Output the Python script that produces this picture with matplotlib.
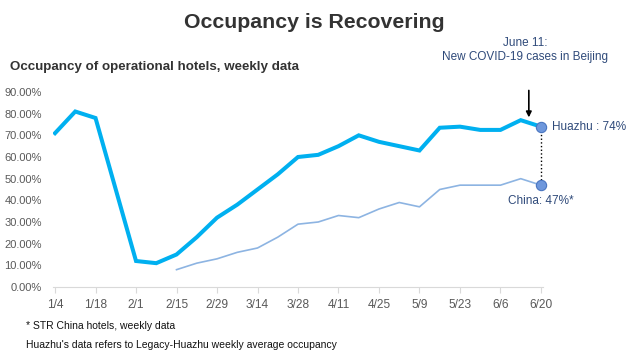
import matplotlib.pyplot as plt
import numpy as np

plt.rcParams['font.family'] = ['Liberation Sans', 'DejaVu Sans']

# weekly data, 1/4 .. 6/20
weeks = ['1/4', '1/11', '1/18', '1/25', '2/1', '2/8', '2/15', '2/22', '2/29', '3/7',
         '3/14', '3/21', '3/28', '4/4', '4/11', '4/18', '4/25', '5/2', '5/9', '5/16',
         '5/23', '5/30', '6/6', '6/13', '6/20']
huazhu = [71, 81, 78, 45, 12, 11, 15, 23, 32, 38, 45, 52, 60, 61, 65, 70, 67, 65,
          63, 73.5, 74, 72.5, 72.5, 77, 74]
china = [None, None, None, None, None, None, 8, 11, 13, 16, 18, 23, 29, 30, 33, 32,
         36, 39, 37, 45, 47, 47, 47, 50, 47]

yticks = [0, 10, 20, 30, 40, 50, 60, 70, 80, 90]

x = np.arange(len(weeks))
hz = np.array(huazhu) / 100
ch = np.array([np.nan if v is None else v for v in china], dtype=float) / 100

fig = plt.figure(figsize=(6.28, 3.51), dpi=100)
ax = fig.add_axes([53 / 628, 1 - 287 / 351, 490 / 628, 195 / 351])

ax.plot(x, hz, color='#00b0f0', lw=2.9, solid_joinstyle='miter', zorder=3)
ax.plot(x, ch, color='#8db4e2', lw=1.2, zorder=3)

# end markers + dotted connector
last = len(x) - 1
ax.plot([last, last], [hz[-1], ch[-1]], ls=':', color='black', lw=1, zorder=2)
ax.scatter([last, last], [hz[-1], ch[-1]], s=55, color='#6e97dc',
           edgecolor='#4a75c0', lw=0.8, zorder=4, clip_on=False)

dark = '#2f4a7a'
ax.text(last + 0.55, hz[-1], 'Huazhu : 74%', color=dark, fontsize=8.5,
        va='center', ha='left')
ax.text(last, ch[-1] - 0.045, 'China: 47%*', color=dark, fontsize=8.5,
        va='top', ha='center')

ax.annotate('', xy=(23.4, 0.77), xytext=(23.4, 0.92),
            arrowprops=dict(arrowstyle='-|>', color='black', lw=1.2,
                            mutation_scale=8),
            annotation_clip=False)
ax.text(23.2, 1.095, 'June 11:\nNew COVID-19 cases in Beijing', color=dark,
        fontsize=8.5, ha='center', va='center', linespacing=1.2)

ax.set_xlim(-0.1, 24.1)
ax.set_ylim(0, 0.9)
ax.set_yticks([v / 100 for v in yticks])
ax.set_yticklabels([f'{v:.2f}%' for v in yticks])
ax.set_xticks(x[::2])
ax.set_xticklabels(weeks[::2])

for s in ['top', 'right', 'left']:
    ax.spines[s].set_visible(False)
ax.spines['bottom'].set_color('#d9d9d9')
ax.tick_params(axis='y', length=0, labelsize=8, labelcolor='#595959', pad=8)
ax.tick_params(axis='x', length=4, color='#d9d9d9', labelsize=8.6,
               labelcolor='#595959', pad=5)

fig.text(0.5, 1 - 22 / 351, 'Occupancy is Recovering', ha='center', va='center',
         fontsize=15.3, fontweight='bold', color='#333333')
fig.text(10 / 628, 1 - 67 / 351, 'Occupancy of operational hotels, weekly data',
         ha='left', va='center', fontsize=9.6, fontweight='bold', color='#333333')
fig.text(26 / 628, 1 - 326 / 351, '* STR China hotels, weekly data',
         ha='left', va='center', fontsize=7.5, color='#111111')
fig.text(26 / 628, 1 - 345 / 351,
         "Huazhu's data refers to Legacy-Huazhu weekly average occupancy",
         ha='left', va='center', fontsize=7.5, color='#111111')

fig.savefig('out.png', dpi=100)
